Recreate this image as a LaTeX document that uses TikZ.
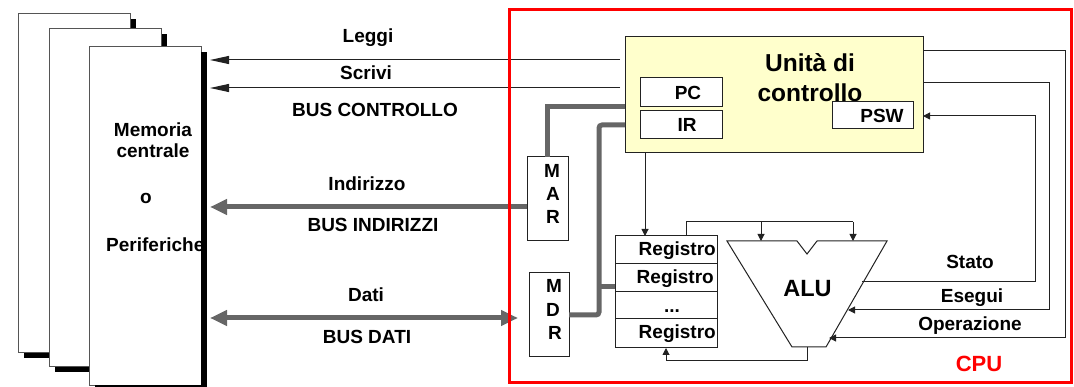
\documentclass[tikz,border=0pt]{standalone}
\usepackage{fontspec}
\setmainfont{Liberation Sans}
\usetikzlibrary{arrows.meta,calc}
\definecolor{bus}{HTML}{666666}
\definecolor{ln}{HTML}{222222}
\definecolor{pg}{HTML}{555555}
\definecolor{cuyel}{HTML}{FFFFCC}
\definecolor{cpured}{HTML}{FF0000}
\tikzset{bustip/.tip={Triangle[length=17pt,width=15pt]}}
\begin{document}
\begin{tikzpicture}[x=1pt,y=-1pt,
  txt/.style={font=\fontsize{19}{22}\selectfont\bfseries, inner sep=0pt, anchor=base},
  bigtxt/.style={font=\fontsize{24.5}{28}\selectfont\bfseries, inner sep=0pt, anchor=base},
  box/.style={draw=ln, line width=1pt, fill=white, anchor=north west, inner sep=0pt, outer sep=0pt},
  page/.style={draw=pg, line width=0.8pt, fill=white},
  thinln/.style={draw=ln, line width=1pt},
  thinarr/.style={thinln, -{Triangle[length=19pt,width=8pt]}},
  smallarr/.style={thinln, -{Triangle[length=7pt,width=7pt]}},
  busline/.style={draw=bus, line width=5pt},
]
\useasboundingbox (0,0) rectangle (1074,387);

% ---------- memory pages ----------
\fill[black] (24,19) rectangle (136,358);
\path[page] (18,13) rectangle (130,352);
\fill[black] (55,34) rectangle (167,372);
\path[page] (49,28) rectangle (161,366);
\path[page] (89,46) rectangle (201,385);
\node[txt] (tmem1) at (153,137) {Memoria};
\node[txt] (tmem2) at (153,158) {centrale};
\node[txt] (tmem3) at (146,204) {o};
\node[txt, anchor=base west] (tmem4) at (106,252) {Periferiche};
\fill[black] (201.4,52) rectangle (207,391);
\fill[black] (95,385.4) rectangle (207,391);
\coordinate (memR) at (210,0);

% ---------- control unit ----------
\node[box, fill=cuyel, minimum width=298pt, minimum height=116pt] (cu) at (625,37) {};
\node[bigtxt] (tcu1) at (810,72) {Unità di};
\node[bigtxt] (tcu2) at (810,102) {controllo};
\node[box, minimum width=82pt, minimum height=29pt] (pc) at (640,78) {};
\node[txt] (tpc) at (688,100) {PC};
\node[box, minimum width=82pt, minimum height=28pt] (ir) at (640,111) {};
\node[txt] (tir) at (687,132) {IR};
\node[box, minimum width=81pt, minimum height=27pt] (psw) at (832,102) {};
\node[txt] (tpsw) at (882,123) {PSW};

% ---------- MAR / MDR ----------
\node[box, minimum width=41pt, minimum height=84pt] (mar) at (527,157) {};
\node[txt] (tmar1) at (552,178) {M};
\node[txt] (tmar2) at (553,201) {A};
\node[txt] (tmar3) at (553,224) {R};
\node[box, minimum width=40pt, minimum height=84pt] (mdr) at (529,273) {};
\node[txt] (tmdr1) at (554,293) {M};
\node[txt] (tmdr2) at (553,317) {D};
\node[txt] (tmdr3) at (555,340) {R};

% ---------- registers ----------
\node[box, minimum width=102pt, minimum height=28pt] (r1) at (615,236) {};
\node[box, minimum width=102pt, minimum height=28pt] (r2) at (615,264) {};
\node[box, minimum width=102pt, minimum height=27pt] (r3) at (615,292) {};
\node[box, minimum width=102pt, minimum height=29pt] (r4) at (615,319) {};
\node[txt, anchor=base east] (tr1) at (716,256) {Registro};
\node[txt, anchor=base east] (tr2) at (714,284) {Registro};
\node[txt] (tr3) at (672,313) {...};
\node[txt, anchor=base east] (tr4) at (716,339) {Registro};

% ---------- ALU ----------
\coordinate (aluTL) at (727,241);
\coordinate (aluN1) at (797,241);
\coordinate (aluN2) at (807,254);
\coordinate (aluN3) at (817,241);
\coordinate (aluTR) at (887,241);
\coordinate (aluBR) at (826,347);
\coordinate (aluBL) at (792,347);
\draw[thinln, fill=white] (aluTL) -- (aluN1) -- (aluN2) -- (aluN3) -- (aluTR) -- (aluBR) -- (aluBL) -- cycle;
\node[font=\fontsize{23.5}{26}\selectfont\bfseries, inner sep=0pt, anchor=base] (talu) at (807.5,297) {ALU};

% ---------- control bus ----------
\coordinate (leggiS) at (620,60);
\coordinate (scriviS) at (620,88);
\draw[thinarr] (leggiS) -- (leggiS -| memR);
\draw[thinarr] (scriviS) -- (scriviS -| memR);
\node[txt] (tleggi) at (368,43) {Leggi};
\node[txt] (tscrivi) at (366,80) {Scrivi};
\node[txt] (tbusc) at (375,117) {BUS CONTROLLO};

% ---------- address bus ----------
\draw[busline] (cu.west |- 0,107) -| (mar.north);
\draw[busline, -bustip] (mar.west |- 0,207) -- (memR |- 0,207);
\node[txt] (tind) at (367,191) {Indirizzo};
\node[txt] (tbusi) at (373,232) {BUS INDIRIZZI};

% ---------- data bus ----------
\draw[busline, rounded corners=3pt] (cu.west |- 0,125) -- (599,125) -- (599,315) -- (mdr.east |- 0,315);
\draw[busline] (599,287) -- (r2.west |- 0,287);
\coordinate (datiR) at (518,318);
\draw[busline, bustip-bustip] (memR |- datiR) -- (datiR);
\node[txt] (tdati) at (366,302) {Dati};
\node[txt] (tbusd) at (367,344) {BUS DATI};

% ---------- internal connections ----------
\draw[smallarr] (cu.south -| 645,0) -- (r1.north -| 645,0);
\draw[thinln] (r1.north -| 686,0) -- (686,222) -- (853,222);
\draw[smallarr] (761,222) -- (aluTL -| 761,0);
\draw[smallarr] (853,222) -- (aluTL -| 853,0);
\draw[smallarr] (aluBL -| 807,0) -- (807,361) -| (r4.south -| 666,0);

\draw[smallarr] (cu.east |- 0,51) -- (1065,51) -- (1065,338) -- (829,338);
\draw[smallarr] (cu.east |- 0,83) -- (1049,83) -- (1049,310) -- (848,310);
\draw[smallarr] (862,282) -- (1035,282) -- (1035,116) -- (cu.east |- 0,116);
\node[txt] (tstato) at (970,269) {Stato};
\node[txt] (tesegui) at (972,303) {Esegui};
\node[txt] (topz) at (970,331) {Operazione};

% ---------- CPU frame ----------
\draw[cpured, line width=3pt] (509.5,10) rectangle (1071.5,382.5);
\node[font=\fontsize{22}{24}\selectfont\bfseries, text=cpured, inner sep=0pt, anchor=base] (tcpu) at (979,372) {CPU};
\end{tikzpicture}
\end{document}
